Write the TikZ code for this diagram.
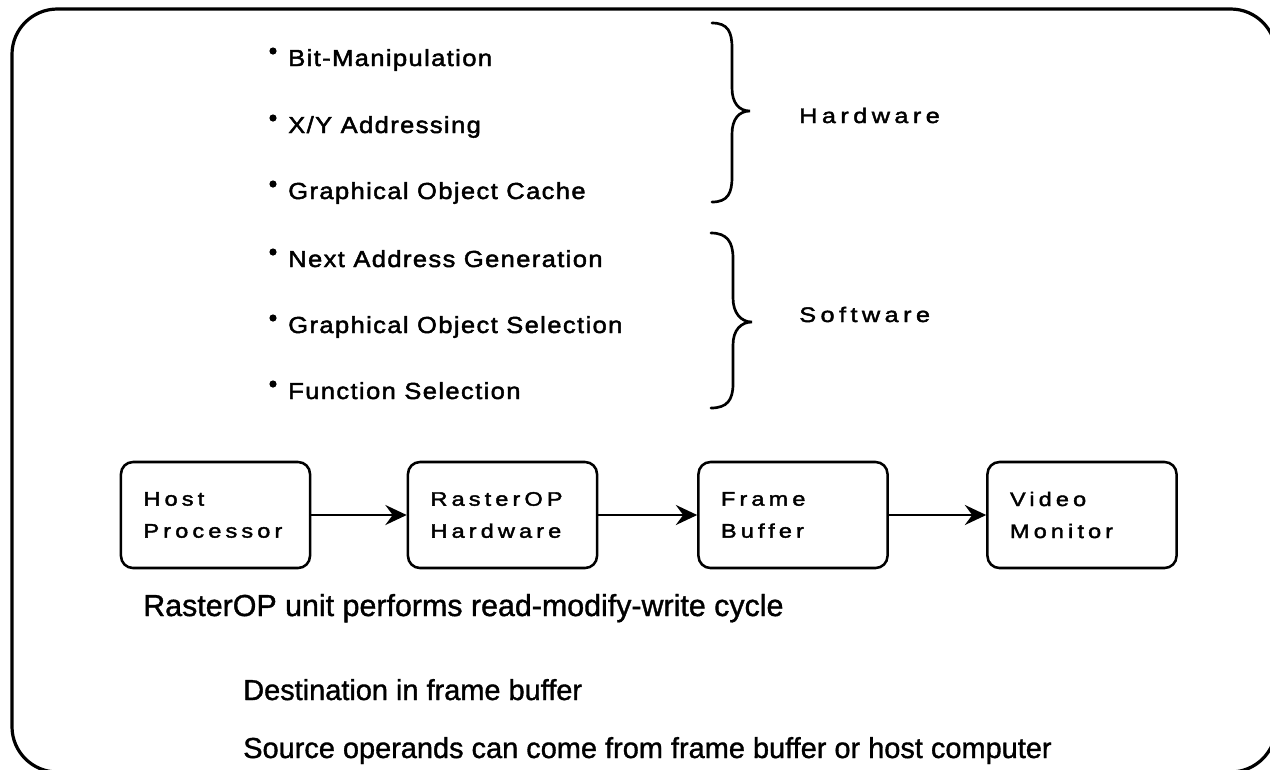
\documentclass[tikz,border=0pt]{standalone}
\usepackage{fontspec}
\setmainfont{Liberation Sans}
\newfontfamily\bulfont[LetterSpace=6, FakeStretch=1.1, FakeBold=2]{Liberation Sans}
\newfontfamily\widefont[LetterSpace=21, FakeStretch=1.2, FakeBold=2]{Liberation Sans}
\newfontfamily\plainfont[FakeBold=1.2]{Liberation Sans}
\usetikzlibrary{arrows.meta}
\begin{document}
\begin{tikzpicture}[x=0.75pt,y=-0.75pt,
  frame/.style={line width=2.4pt, rounded corners=34pt},
  brace/.style={line width=2pt, line cap=round},
  bul/.style={anchor=base west, inner sep=0pt, font={\bulfont\fontsize{17.4pt}{20pt}\selectfont}},
  lbl/.style={anchor=base west, inner sep=0pt, font={\widefont\fontsize{15.8pt}{20pt}\selectfont}},
  note/.style={anchor=base west, inner sep=0pt, font={\plainfont\fontsize{21.7pt}{24pt}\selectfont}},
  box/.style={draw, line width=1.9pt, rounded corners=9pt, minimum width=141.75pt, minimum height=79.5pt,
    text width=108pt, inner xsep=16.9pt, align=left, font={\widefont\fontsize{14.7pt}{24pt}\selectfont}},
  arr/.style={line width=1.9pt, -{Stealth[length=16pt, width=15pt, inset=5.5pt]}}]
\useasboundingbox (0,0) rectangle (1270,769);
% outer frame
\draw[frame] (12,9) rectangle (1276,772);
% bullet list
\foreach \y in {66,133,199,267,333,399} \fill (273,\y-15) circle[radius=2.7pt];
\node[bul] (b1) at (288,66) {Bit-Manipulation};
\node[bul] (b2) at (288,133) {X/Y Addressing};
\node[bul] (b3) at (288,199) {Graphical Object Cache};
\node[bul] (b4) at (288,267) {Next Address Generation};
\node[bul] (b5) at (288,333) {Graphical Object Selection};
\node[bul] (b6) at (288,399) {Function Selection};
% braces
\draw[brace] (712,23) .. controls (728,23) and (732,32) .. (732,48) -- (732,88)
  .. controls (732,103) and (739,111) .. (750,111)
  .. controls (739,111) and (732,119) .. (732,134) -- (732,177)
  .. controls (732,193) and (728,202) .. (712,202);
\draw[brace] (711,233) .. controls (727,233) and (733,242) .. (733,258) -- (733,298)
  .. controls (733,313) and (741,322) .. (752,322)
  .. controls (741,322) and (733,330) .. (733,345) -- (733,384)
  .. controls (733,400) and (727,408) .. (711,408);
\node[lbl] (hw) at (799,123) {Hardware};
\node[lbl] (sw) at (799,322) {Software};
% boxes
\node[box] (host) at (215.5,515) {Host\\Processor};
\node[box] (rop) at (502.5,515) {RasterOP\\Hardware};
\node[box] (fb) at (793,515) {Frame\\Buffer};
\node[box] (vm) at (1082,515) {Video\\Monitor};
\draw[arr] (host) -- (rop);
\draw[arr] (rop) -- (fb);
\draw[arr] (fb) -- (vm);
% notes
\node[note, font={\plainfont\fontsize{22.8pt}{24pt}\selectfont}] (n1) at (143,616) {RasterOP unit performs read-modify-write cycle};
\node[note] (n2) at (243,700) {Destination in frame buffer};
\node[note] (n3) at (243,758) {Source operands can come from frame buffer or host computer};
\end{tikzpicture}
\end{document}
